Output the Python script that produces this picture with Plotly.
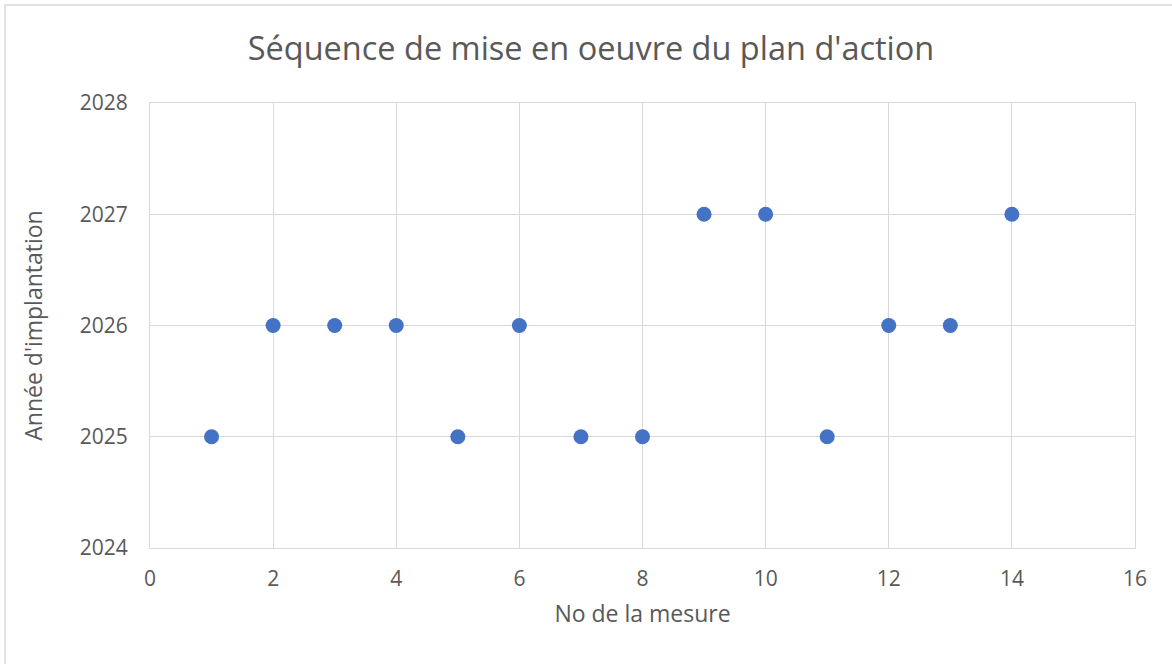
import plotly.graph_objects as go

mesures = [1, 2, 3, 4, 5, 6, 7, 8, 9, 10, 11, 12, 13, 14]
annees = [2025, 2026, 2026, 2026, 2025, 2026, 2025, 2025, 2027, 2027, 2025, 2026, 2026, 2027]
x_ticks = [0, 2, 4, 6, 8, 10, 12, 14, 16]
y_ticks = [2024, 2025, 2026, 2027, 2028]

W, H = 1172, 664
L, R, T, B = 150, 37, 103, 116
pw, ph = W - L - R, H - T - B

fig = go.Figure()
fig.add_trace(go.Scatter(
    x=mesures, y=annees, mode="markers",
    marker=dict(color="#4472C4", size=15, line=dict(width=0)),
    showlegend=False,
))

text_col = "#595959"
grid_col = "#D9D9D9"
font = "Open Sans"

fig.update_layout(
    width=W, height=H,
    margin=dict(l=L, r=R, t=T, b=B),
    paper_bgcolor="white", plot_bgcolor="white",
    font=dict(family=font, color=text_col, size=21),
    title=dict(text="Séquence de mise en oeuvre du plan d'action",
               x=591 / W, xanchor="center", y=1 - 49 / H, yanchor="middle",
               font=dict(size=32.5, color=text_col, family=font)),
    xaxis=dict(range=[0, 16], tickvals=x_ticks, showgrid=True, gridcolor=grid_col,
               gridwidth=1, zeroline=False, showline=True, linecolor=grid_col, mirror=True,
               ticks="", ticklabelstandoff=12,
               title=dict(text="No de la mesure", standoff=14, font=dict(size=23))),
    yaxis=dict(range=[2024, 2028], tickvals=y_ticks, showgrid=True, gridcolor=grid_col,
               gridwidth=1, zeroline=False, showline=True, linecolor=grid_col, mirror=True,
               ticks="", ticklabelstandoff=17,
               title=dict(text="Année d'implantation", standoff=30, font=dict(size=23))),
)

fig.add_shape(type="rect", xref="paper", yref="paper",
              x0=(5 - L) / pw, x1=(W + 10 - L) / pw,
              y0=-(B + 10) / ph, y1=1 + (T - 5) / ph,
              line=dict(color=grid_col, width=1.5), fillcolor="rgba(0,0,0,0)", layer="below")

fig.write_html("out.html", config={"displayModeBar": False},
               post_script="document.body.style.margin='0';")
